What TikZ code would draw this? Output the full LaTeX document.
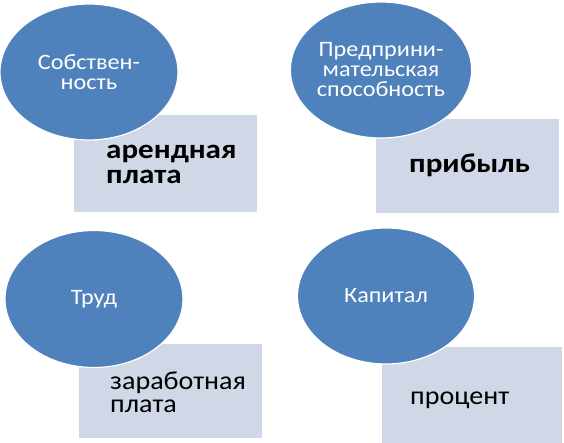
\documentclass[tikz,border=0pt]{standalone}
\usepackage{fontspec}
\setmainfont{Carlito}
\newfontfamily\ballfont[FakeStretch=1.1]{Carlito}
\newfontfamily\boldwide[FakeStretch=1.15]{Carlito}
\newfontfamily\regwide[FakeStretch=1.08]{Carlito}
\usetikzlibrary{shapes.geometric}
\definecolor{ballblue}{HTML}{4F81BD}
\definecolor{boxgray}{HTML}{D0D8E8}
\tikzset{
  ball/.style={ellipse, fill=ballblue, draw=white, line width=1.2pt, inner sep=0pt, text=white, align=center, font=\ballfont\fontsize{22}{20}\selectfont},
  paybox/.style={rectangle, fill=boxgray, draw=none, inner sep=0pt, anchor=north west},
  paytext/.style={anchor=base west, inner sep=0pt, align=left, text=black},
  boldtxt/.style={font=\boldwide\fontsize{27}{25}\selectfont\bfseries},
  regtxt/.style={font=\regwide\fontsize{26}{23}\selectfont}
}
\begin{document}
\begin{tikzpicture}[x=1pt,y=-1pt]
\useasboundingbox (0,0) rectangle (564,443);
% group 1
\node[paybox, minimum width=183pt, minimum height=97pt] (r1) at (74,115) {};
\node[ball, minimum width=178pt, minimum height=136pt] (e1) at (89,72) {Собствен-\\ность};
\node[paytext, boldtxt] (t1) at (106,184) {арендная\\плата};
% group 2
\node[paybox, minimum width=183pt, minimum height=94pt] (r2) at (376,119) {};
\node[ball, minimum width=177pt, minimum height=136pt] (e2) at (381,70) {Предприни-\\мательская\\способность};
\node[paytext, boldtxt] (t2) at (409,173) {прибыль};
% group 3
\node[paybox, minimum width=183pt, minimum height=94pt] (r3) at (79,344) {};
\node[ball, minimum width=178pt, minimum height=137pt] (e3) at (94,299) {Труд};
\node[paytext, regtxt] (t3) at (110,412) {заработная\\плата};
% group 4
\node[paybox, minimum width=180pt, minimum height=96pt] (r4) at (382,347) {};
\node[ball, minimum width=177pt, minimum height=136pt] (e4) at (386,296) {Капитал};
\node[paytext, regtxt] (t4) at (410,404) {процент};
\end{tikzpicture}
\end{document}
